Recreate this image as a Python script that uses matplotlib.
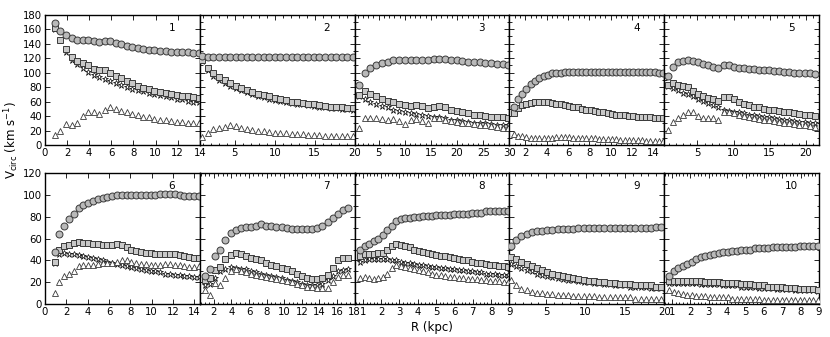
import matplotlib
matplotlib.use("Agg")
import matplotlib.pyplot as plt
from matplotlib.ticker import MultipleLocator, AutoMinorLocator

# ---------------- data ----------------
R1 = [0.9, 1.4, 1.9, 2.4, 2.9, 3.4, 3.9, 4.4, 4.9, 5.4, 5.9, 6.4, 6.9, 7.4, 7.9, 8.4, 8.9, 9.4, 9.9,
      10.4, 10.9, 11.4, 11.9, 12.4, 12.9, 13.4, 13.9]
C1 = [168, 158, 152, 148, 145, 145, 145, 144, 142, 143, 143, 141, 139, 137, 135, 134, 133, 131, 131,
      130, 130, 129, 129, 128, 128, 127, 127]
S1 = [162, 145, 132, 122, 116, 113, 110, 105, 103, 103, 100, 96, 92, 88, 85, 82, 79, 77, 75, 73, 72,
      70, 69, 68, 67, 66, 65]
ST1 = [160, 145, 128, 118, 112, 106, 101, 97, 94, 91, 88, 85, 83, 80, 78, 76, 74, 72, 70, 69, 67, 66,
       64, 63, 61, 60, 59]
T1 = [14, 20, 29, 28, 30, 40, 46, 45, 43, 48, 52, 50, 47, 45, 43, 41, 39, 38, 36, 35, 34, 33, 32, 32,
      31, 31, 30]

R2 = [0.9, 1.6, 2.3, 3.0, 3.7, 4.4, 5.1, 5.8, 6.5, 7.2, 7.9, 8.6, 9.3, 10.0, 10.7, 11.4, 12.1, 12.8,
      13.5, 14.2, 14.9, 15.6, 16.3, 17.0, 17.7, 18.4, 19.1, 19.8]
C2 = [123, 122, 121, 121, 122, 122, 122, 122, 122, 121, 121, 121, 122, 122, 122, 122, 122, 121, 121,
      121, 122, 122, 122, 122, 122, 122, 122, 122]
S2 = [117, 106, 99, 94, 90, 86, 82, 79, 76, 73, 71, 69, 67, 65, 63, 62, 60, 59, 58, 57, 56, 55, 54,
      53, 53, 52, 51, 51]
ST2 = [116, 103, 95, 90, 86, 82, 79, 76, 73, 70, 68, 66, 64, 62, 61, 59, 58, 57, 56, 55, 54, 53, 52,
       51, 51, 50, 50, 49]
T2 = [11, 17, 22, 23, 25, 28, 26, 24, 22, 21, 20, 19, 18, 17, 16, 16, 15, 15, 15, 14, 14, 14, 13, 13,
      13, 13, 13, 13]

R3 = [1.2, 2.3, 3.4, 4.5, 5.6, 6.7, 7.8, 8.9, 10.0, 11.1, 12.2, 13.3, 14.4, 15.5, 16.6, 17.7, 18.8,
      19.9, 21.0, 22.1, 23.2, 24.3, 25.4, 26.5, 27.6, 28.7, 29.8]
C3 = [83, 100, 106, 110, 113, 115, 117, 117, 117, 118, 118, 118, 118, 119, 119, 119, 118, 117, 116,
      115, 114, 114, 113, 113, 112, 112, 111]
S3 = [69, 75, 71, 67, 63, 61, 59, 57, 55, 54, 55, 54, 51, 53, 54, 52, 49, 47, 45, 44, 42, 41, 40, 39,
      38, 38, 37]
ST3 = [67, 64, 60, 57, 54, 52, 49, 47, 45, 44, 43, 41, 40, 39, 38, 37, 35, 34, 33, 32, 31, 30, 30, 29,
       28, 28, 27]
T3 = [24, 37, 37, 37, 36, 34, 36, 33, 29, 34, 36, 33, 31, 37, 37, 35, 33, 32, 31, 30, 29, 28, 27, 26,
      25, 24, 23]

R4 = [0.9, 1.3, 1.7, 2.1, 2.5, 2.9, 3.3, 3.7, 4.1, 4.5, 4.9, 5.3, 5.7, 6.1, 6.5, 6.9, 7.3, 7.7, 8.1,
      8.5, 8.9, 9.3, 9.7, 10.1, 10.5, 10.9, 11.3, 11.7, 12.1, 12.5, 12.9, 13.3, 13.7, 14.1, 14.5, 14.9]
C4 = [52, 63, 71, 78, 84, 88, 92, 95, 97, 99, 100, 100, 101, 101, 101, 101, 101, 101, 101, 101, 101,
      101, 101, 101, 101, 101, 101, 101, 101, 101, 101, 101, 101, 101, 100, 100]
S4 = [44, 51, 55, 57, 58, 59, 59, 59, 59, 58, 57, 56, 55, 54, 53, 52, 50, 49, 48, 47, 46, 45, 44, 43,
      42, 41, 41, 40, 40, 39, 39, 38, 38, 37, 37, 37]
ST4 = [44, 51, 55, 57, 58, 59, 59, 59, 59, 58, 57, 56, 55, 54, 53, 52, 50, 49, 48, 47, 46, 45, 44, 43,
       42, 41, 41, 40, 40, 39, 39, 38, 38, 37, 37, 37]
T4 = [15, 13, 12, 11, 10, 10, 9, 9, 10, 10, 11, 11, 11, 11, 10, 10, 10, 9, 9, 9, 8, 8, 8, 8, 8, 7, 7,
      7, 7, 7, 7, 6, 6, 6, 6, 6]

R5 = [0.9, 1.6, 2.3, 3.0, 3.7, 4.4, 5.1, 5.8, 6.5, 7.2, 7.9, 8.6, 9.3, 10.0, 10.7, 11.4, 12.1, 12.8,
      13.5, 14.2, 14.9, 15.6, 16.3, 17.0, 17.7, 18.4, 19.1, 19.8, 20.5, 21.2]
C5 = [95, 108, 114, 116, 117, 116, 114, 112, 110, 108, 107, 110, 110, 108, 107, 106, 105, 105, 104,
      103, 103, 102, 102, 101, 101, 100, 100, 99, 99, 98]
S5 = [83, 86, 83, 82, 80, 75, 71, 67, 65, 63, 61, 66, 66, 63, 59, 57, 55, 53, 52, 50, 49, 48, 47, 46,
      45, 44, 43, 42, 41, 40]
ST5 = [82, 79, 76, 72, 70, 67, 64, 61, 58, 55, 52, 49, 47, 46, 45, 44, 42, 41, 40, 39, 38, 37, 36, 35,
       34, 33, 32, 32, 31, 30]
T5 = [21, 32, 37, 41, 45, 46, 40, 37, 37, 37, 35, 46, 46, 44, 42, 40, 38, 37, 36, 35, 34, 33, 32, 31,
      30, 29, 28, 27, 26, 25]

R6 = [0.90, 1.35, 1.80, 2.25, 2.70, 3.15, 3.60, 4.05, 4.50, 4.95, 5.40, 5.85, 6.30, 6.75, 7.20, 7.65,
      8.10, 8.55, 9.00, 9.45, 9.90, 10.35, 10.80, 11.25, 11.70, 12.15, 12.60, 13.05, 13.50, 13.95, 14.40]
C6 = [48, 64, 72, 78, 83, 88, 91, 93, 95, 96, 97, 98, 99, 100, 100, 100, 100, 100, 100, 100, 100, 100,
      101, 101, 101, 101, 100, 99, 99, 99, 99]
S6 = [39, 50, 53, 54, 56, 57, 56, 56, 55, 55, 54, 54, 54, 55, 54, 52, 50, 49, 48, 47, 47, 46, 46, 46,
      46, 46, 45, 44, 43, 42, 42]
ST6 = [38, 46, 47, 46, 46, 45, 44, 43, 42, 41, 40, 39, 38, 37, 36, 35, 34, 33, 32, 31, 30, 30, 29, 28,
       28, 27, 27, 26, 26, 25, 25]
T6 = [10, 20, 26, 28, 30, 35, 36, 36, 36, 37, 38, 38, 38, 39, 40, 40, 39, 38, 37, 37, 36, 36, 36, 37,
      37, 36, 36, 35, 34, 34, 35]

R7 = [1.0, 1.58, 2.16, 2.74, 3.32, 3.9, 4.48, 5.06, 5.64, 6.22, 6.8, 7.38, 7.96, 8.54, 9.12, 9.7,
      10.28, 10.86, 11.44, 12.02, 12.6, 13.18, 13.76, 14.34, 14.92, 15.5, 16.08, 16.66, 17.24]
C7 = [26, 32, 44, 50, 59, 65, 68, 70, 71, 71, 72, 73, 72, 72, 71, 71, 70, 69, 69, 69, 69, 69, 70, 72,
      75, 79, 83, 86, 88]
S7 = [22, 24, 31, 34, 41, 45, 47, 46, 44, 42, 41, 40, 38, 36, 35, 33, 32, 30, 28, 26, 24, 23, 23, 24,
      27, 33, 40, 42, 42]
ST7 = [17, 18, 24, 30, 32, 34, 33, 32, 32, 30, 29, 28, 27, 26, 25, 24, 22, 21, 20, 18, 17, 17, 17, 18,
       22, 26, 30, 31, 32]
T7 = [13, 8, 19, 17, 24, 30, 32, 30, 29, 28, 27, 26, 25, 24, 23, 22, 21, 20, 18, 17, 16, 16, 15, 15,
      15, 20, 25, 27, 27]

R8 = [0.85, 1.10, 1.34, 1.59, 1.83, 2.08, 2.32, 2.57, 2.81, 3.06, 3.30, 3.55, 3.79, 4.04, 4.28, 4.53,
      4.77, 5.02, 5.26, 5.51, 5.75, 6.00, 6.24, 6.49, 6.73, 6.98, 7.22, 7.47, 7.71, 7.96, 8.20, 8.45,
      8.69, 8.94]
C8 = [50, 53, 55, 58, 60, 63, 68, 72, 76, 78, 79, 79, 80, 80, 81, 81, 81, 82, 82, 82, 82, 83, 83, 83,
      83, 84, 84, 84, 85, 85, 85, 85, 85, 85]
S8 = [44, 46, 46, 46, 47, 47, 50, 53, 55, 54, 53, 52, 50, 49, 48, 47, 46, 45, 44, 44, 43, 42, 41, 40,
      40, 39, 38, 38, 37, 36, 36, 35, 35, 34]
ST8 = [39, 40, 41, 41, 41, 41, 41, 40, 40, 39, 38, 38, 37, 36, 36, 35, 34, 34, 33, 33, 32, 32, 31, 31,
       30, 30, 29, 29, 28, 28, 28, 27, 27, 27]
T8 = [24, 25, 24, 23, 24, 25, 28, 33, 36, 35, 34, 33, 32, 31, 30, 29, 28, 27, 27, 26, 25, 25, 24, 24,
      23, 23, 23, 22, 22, 21, 21, 21, 20, 20]

R9 = [0.5, 1.16, 1.82, 2.48, 3.14, 3.8, 4.46, 5.12, 5.78, 6.44, 7.1, 7.76, 8.42, 9.08, 9.74, 10.4,
      11.06, 11.72, 12.38, 13.04, 13.7, 14.36, 15.02, 15.68, 16.34, 17.0, 17.66, 18.32, 18.98, 19.64]
C9 = [53, 59, 62, 64, 66, 67, 67, 68, 68, 69, 69, 69, 69, 70, 70, 70, 70, 70, 70, 70, 70, 70, 70, 70,
      70, 70, 70, 70, 71, 71]
S9 = [43, 41, 39, 37, 35, 33, 31, 29, 28, 27, 26, 25, 24, 23, 22, 21, 21, 20, 20, 19, 19, 18, 18, 18,
      17, 17, 17, 17, 16, 16]
ST9 = [37, 35, 33, 31, 30, 28, 27, 26, 25, 24, 23, 22, 22, 21, 20, 20, 19, 19, 18, 18, 17, 17, 17, 16,
       16, 16, 16, 15, 15, 15]
T9 = [22, 17, 14, 13, 11, 10, 10, 9, 9, 8, 8, 8, 7, 7, 7, 7, 7, 6, 6, 6, 6, 6, 6, 6, 5, 5, 5, 5, 5, 5]

R10 = [0.85, 1.10, 1.34, 1.59, 1.83, 2.08, 2.32, 2.57, 2.81, 3.06, 3.30, 3.55, 3.79, 4.04, 4.28, 4.53,
       4.77, 5.02, 5.26, 5.51, 5.75, 6.00, 6.24, 6.49, 6.73, 6.98, 7.22, 7.47, 7.71, 7.96, 8.20, 8.45,
       8.69, 8.94]
C10 = [26, 30, 33, 35, 37, 39, 41, 43, 44, 45, 46, 47, 48, 48, 49, 49, 50, 50, 50, 51, 51, 51, 51, 52,
       52, 52, 52, 52, 52, 53, 53, 53, 53, 53]
S10 = [21, 21, 21, 21, 21, 21, 21, 21, 20, 20, 20, 20, 19, 19, 19, 19, 18, 18, 18, 17, 17, 17, 16, 16,
       16, 16, 15, 15, 15, 14, 14, 14, 14, 13]
ST10 = [19, 19, 19, 19, 19, 19, 19, 18, 18, 18, 18, 18, 17, 17, 17, 17, 16, 16, 16, 16, 15, 15, 15, 15,
        14, 14, 14, 14, 13, 13, 13, 13, 13, 12]
T10 = [13, 11, 10, 9, 8, 8, 7, 7, 7, 6, 6, 6, 6, 6, 5, 5, 5, 5, 5, 5, 5, 4, 4, 4, 4, 4, 4, 4, 4, 4,
       4, 4, 4, 4]

panel_labels = ["1", "2", "3", "4", "5", "6", "7", "8", "9", "10"]
series = [
    (R1, C1, S1, ST1, T1), (R2, C2, S2, ST2, T2), (R3, C3, S3, ST3, T3),
    (R4, C4, S4, ST4, T4), (R5, C5, S5, ST5, T5), (R6, C6, S6, ST6, T6),
    (R7, C7, S7, ST7, T7), (R8, C8, S8, ST8, T8), (R9, C9, S9, ST9, T9),
    (R10, C10, S10, ST10, T10),
]

# ---------------- layout ----------------
xlims = [(0, 14), (0.6, 20), (0.4, 30), (0.5, 15), (0.4, 21.8),
         (0, 14.5), (0.4, 18), (0.55, 9), (0.3, 20), (0.57, 9)]
xmajor = [2, 5, 5, 2, 5, 2, 2, 1, 5, 1]

W, H = 830, 337
fig = plt.figure(figsize=(W / 100, H / 100), dpi=100)

left_px, right_px = 45, 819
pw = (right_px - left_px) / 5
rows = [(14.7, 145), (173.3, 304)]
ylims = [(0, 180), (0, 120)]

edge = "#3a3a3a"
for i in range(10):
    r, c = divmod(i, 5)
    top_px, bot_px = rows[r]
    ax = fig.add_axes([(left_px + c * pw) / W, 1 - bot_px / H, pw / W, (bot_px - top_px) / H])
    R, C, S, ST, T = series[i]
    ax.plot(R, ST, ls="none", marker="*", ms=4.5, mfc="white", mec="black", mew=0.5, zorder=2)
    ax.plot(R, S, ls="none", marker="s", ms=4.6, mfc="#c8c8c8", mec=edge, mew=0.7, zorder=3)
    ax.plot(R, C, ls="none", marker="o", ms=5.0, mfc="#b9b9b9", mec=edge, mew=0.7, zorder=4)
    ax.plot(R, T, ls="none", marker="^", ms=4.6, mfc="white", mec=edge, mew=0.6, zorder=5)
    ax.set_xlim(*xlims[i])
    ax.set_ylim(*ylims[r])
    ax.xaxis.set_major_locator(MultipleLocator(xmajor[i]))
    ax.yaxis.set_major_locator(MultipleLocator(20))
    if c > 0:
        ax.xaxis.set_minor_locator(AutoMinorLocator())
        ax.yaxis.set_minor_locator(MultipleLocator(10))
        ax.set_yticklabels([])
    ax.tick_params(which="both", direction="in", top=True, right=True, labelsize=7.3,
                   width=0.6, pad=2)
    ax.tick_params(which="major", length=3.5)
    ax.tick_params(which="minor", length=1.8)
    for sp in ax.spines.values():
        sp.set_linewidth(1.0)
    ax.text(0.82, 0.9, panel_labels[i], transform=ax.transAxes, ha="center", va="center",
            fontsize=7.5)

fig.text(12 / W, 1 - 140 / H, r"V$_{\rm circ}$ (km s$^{-1}$)", rotation=90,
         ha="center", va="center", fontsize=8.5)
fig.text(432 / W, 1 - 327 / H, "R (kpc)", ha="center", va="center", fontsize=8.5)

fig.savefig("out.png", dpi=100)
